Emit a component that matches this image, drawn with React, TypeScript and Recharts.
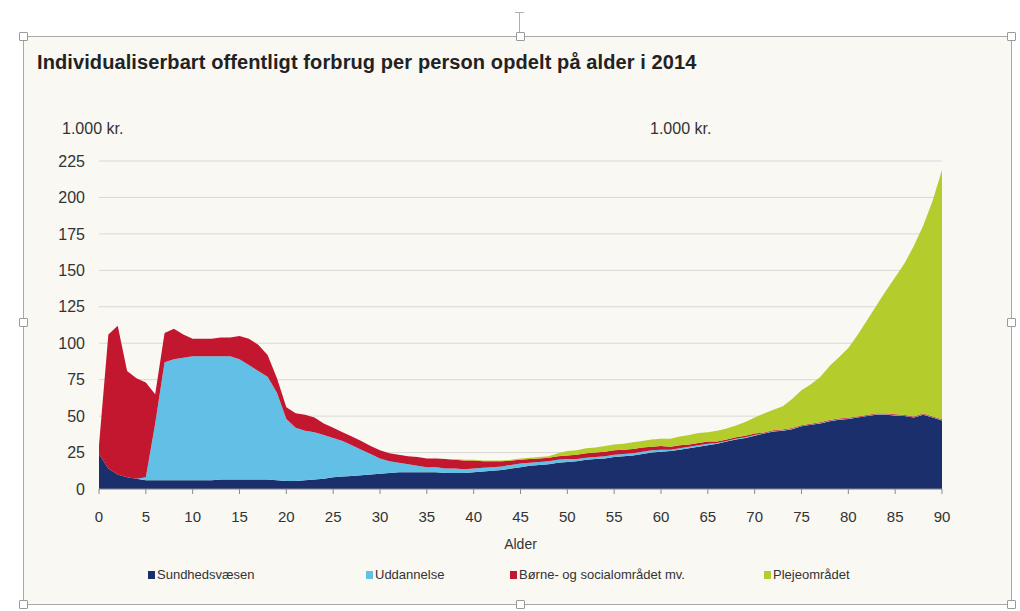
import React from 'react';
import { AreaChart, Area, XAxis, YAxis, CartesianGrid } from 'recharts';

const ages = [
  0, 1, 2, 3, 4, 5, 6, 7, 8, 9, 10, 11, 12, 13, 14, 15, 16, 17, 18, 19,
  20, 21, 22, 23, 24, 25, 26, 27, 28, 29, 30, 31, 32, 33, 34, 35, 36, 37, 38, 39,
  40, 41, 42, 43, 44, 45, 46, 47, 48, 49, 50, 51, 52, 53, 54, 55, 56, 57, 58, 59,
  60, 61, 62, 63, 64, 65, 66, 67, 68, 69, 70, 71, 72, 73, 74, 75, 76, 77, 78, 79,
  80, 81, 82, 83, 84, 85, 86, 87, 88, 89, 90,
];

// Sundhedsvæsen
const sundhed = [
  24, 14, 10, 8, 7, 6, 6, 6, 6, 6,
  6, 6, 6, 6.5, 6.5, 6.5, 6.5, 6.5, 6.5, 6,
  5.5, 5.5, 6, 6.5, 7, 8, 8.5, 9, 9.5, 10,
  10.5, 11, 11.5, 11.5, 11.5, 11.5, 11.5, 11, 11, 11,
  11.5, 12, 12.5, 13, 14, 15, 16, 16.5, 17, 18,
  18.5, 19, 20, 20.5, 21, 22, 22.5, 23, 24, 25,
  25.5, 26, 27, 28, 29, 30, 31, 32.5, 34, 35,
  36.5, 38, 39.5, 40, 41, 43, 44, 45, 46.5, 47.5,
  48, 49, 50, 51, 51, 50.5, 50, 49, 51, 49, 47,
];

// Uddannelse
const uddannelse = [
  0, 0, 0, 0, 0, 2, 39, 81, 83, 84,
  85, 85, 85, 84.5, 84.5, 82.5, 78.5, 74.5, 70.5, 60,
  42.5, 36.5, 34, 32.5, 30, 27, 24.5, 21, 17.5, 14,
  10.5, 8, 6.5, 5.5, 4.5, 3.5, 3.5, 3, 3, 2.5,
  2.5, 2.5, 2.5, 2.5, 2.5, 2.5, 2, 2, 2, 2,
  2, 1.5, 1.5, 1.5, 1.5, 1.5, 1.5, 1.5, 1.5, 1.5,
  1.5, 1, 1, 1, 1, 1, 0.5, 0.5, 0.5, 0.5,
  0.5, 0.3, 0.3, 0.3, 0.3, 0.3, 0.3, 0.3, 0.3, 0.3,
  0.3, 0.3, 0.3, 0.3, 0.3, 0.3, 0.3, 0.3, 0.3, 0.3, 0.3,
];

// Børne- og socialområdet mv.
const boerne = [
  6, 92, 102, 73, 69, 65, 20, 20, 21, 16,
  12, 12, 12, 13, 13, 16, 18, 18, 15, 10,
  8, 10, 11, 10, 8, 7, 6, 6, 6, 5.5,
  5.5, 5.5, 5.5, 5.5, 6, 6, 6, 6.5, 6, 6,
  5.5, 4.5, 4, 3.5, 3, 2.5, 2.5, 2.5, 2.5, 2.5,
  2.5, 3, 3, 3, 3, 3, 3, 3, 3, 2.5,
  2.5, 2, 2, 1.5, 1.5, 1.5, 1, 1, 1, 1,
  1, 0.5, 0.5, 0.5, 0.5, 0.5, 0.5, 0.5, 0.5, 0.5,
  0.5, 0.5, 0.5, 0.5, 0.5, 0.5, 0.5, 0.5, 0.5, 0.5, 0.5,
];

// Plejeområdet
const pleje = [
  0, 0, 0, 0, 0, 0, 0, 0, 0, 0,
  0, 0, 0, 0, 0, 0, 0, 0, 0, 0,
  0, 0, 0, 0, 0, 0, 0, 0, 0, 0,
  0, 0, 0, 0, 0, 0, 0, 0, 0.5, 0.5,
  0.5, 0.5, 0.5, 0.5, 0.5, 1, 1, 1, 1, 2,
  3, 3, 3.5, 3.5, 4, 4, 4, 4.5, 4.5, 5,
  5, 5.5, 6, 6.5, 7, 6.5, 7.5, 7.5, 8, 9.5,
  11, 13, 14, 16, 20, 24, 27, 31, 37, 42,
  48, 56, 65, 74, 84, 94, 104, 117, 129, 148, 171,
];

const xTicks = [0, 5, 10, 15, 20, 25, 30, 35, 40, 45, 50, 55, 60, 65, 70, 75, 80, 85, 90];
const yTicks = [0, 25, 50, 75, 100, 125, 150, 175, 200, 225];

const series = [
  { key: 'sundhed', name: 'Sundhedsvæsen', color: '#1b2f6c' },
  { key: 'uddannelse', name: 'Uddannelse', color: '#62c0e6' },
  { key: 'boerne', name: 'Børne- og socialområdet mv.', color: '#c3162f' },
  { key: 'pleje', name: 'Plejeområdet', color: '#b4cc2c' },
];

const legendX = [148, 366, 510, 764];

const data = ages.map((age, i) => ({
  age,
  sundhed: sundhed[i],
  uddannelse: uddannelse[i],
  boerne: boerne[i],
  pleje: pleje[i],
}));

const font = '"Liberation Sans", Arial, sans-serif';
const tickStyle = { fontSize: 16, fill: '#333', fontFamily: font };

function Handle({ x, y }: { x: number; y: number }) {
  return (
    <div
      style={{
        position: 'absolute',
        left: x - 4,
        top: y - 4,
        width: 7,
        height: 7,
        border: '1px solid #9a9a9a',
        background: '#fff',
        borderRadius: 1,
      }}
    />
  );
}

export default function App() {
  return (
    <div style={{ position: 'fixed', left: 0, top: 0, width: 1020, height: 611, background: '#fff', overflow: 'hidden', fontFamily: font }}>
      {/* selection frame */}
      <div
        style={{
          position: 'absolute',
          left: 23,
          top: 36,
          width: 987,
          height: 567,
          border: '1px solid #a8a8a8',
          background: '#f9f8f3',
        }}
      />
      <div style={{ position: 'absolute', left: 519, top: 12, width: 1, height: 24, background: '#b0b0b0' }} />
      <div style={{ position: 'absolute', left: 515, top: 12, width: 9, height: 1, background: '#b0b0b0' }} />
      {[[23, 36], [520, 36], [1011, 36], [23, 322], [1011, 322], [23, 604], [520, 604], [1011, 604]].map(([x, y]) => (
        <Handle key={`${x}-${y}`} x={x} y={y} />
      ))}

      <div style={{ position: 'absolute', left: 37, top: 51, fontSize: 20, fontWeight: 'bold', color: '#222', whiteSpace: 'nowrap', letterSpacing: 0.1 }}>
        Individualiserbart offentligt forbrug per person opdelt på alder i 2014
      </div>
      <div style={{ position: 'absolute', left: 62, top: 120, fontSize: 16, color: '#333' }}>1.000 kr.</div>
      <div style={{ position: 'absolute', left: 650, top: 120, fontSize: 16, color: '#333' }}>1.000 kr.</div>

      <div style={{ position: 'absolute', left: 0, top: 0 }}>
        <AreaChart width={1020} height={611} data={data} margin={{ top: 161, right: 20, bottom: 92, left: 40 }}>
          <CartesianGrid vertical={false} stroke="#d8d8d6" yAxisId="left" />
          <XAxis
            dataKey="age"
            type="number"
            domain={[0, 90]}
            ticks={xTicks}
            height={30}
            stroke="#8a8a8a"
            tickSize={5}
            tickMargin={17}
            tick={{ ...tickStyle, fontSize: 15 }}
            label={{ value: 'Alder', position: 'bottom', offset: 20, style: { fontSize: 14, fill: '#333', fontFamily: font } }}
          />
          <YAxis
            yAxisId="left"
            domain={[0, 225]}
            ticks={yTicks}
            width={59}
            axisLine={false}
            tickLine={false}
            tickSize={0}
            tickMargin={14}
            tick={tickStyle}
          />
          <YAxis
            yAxisId="right"
            orientation="right"
            domain={[0, 225]}
            ticks={yTicks}
            width={58}
            axisLine={false}
            tickLine={false}
            tickSize={0}
            tickMargin={15}
            tick={{ ...tickStyle, textAnchor: 'start' }}
          />
          {series.map((s) => (
            <Area
              key={s.key}
              yAxisId="left"
              type="linear"
              dataKey={s.key}
              name={s.name}
              stackId="1"
              fill={s.color}
              fillOpacity={1}
              stroke="none"
              isAnimationActive={false}
            />
          ))}
        </AreaChart>
      </div>

      {series.map((s, i) => (
        <div
          key={s.key}
          style={{ position: 'absolute', left: legendX[i], top: 567, display: 'flex', alignItems: 'center', fontSize: 13, color: '#333', whiteSpace: 'nowrap' }}
        >
          <span style={{ display: 'inline-block', width: 7, height: 8, background: s.color, marginRight: 2 }} />
          {s.name}
        </div>
      ))}
    </div>
  );
}
